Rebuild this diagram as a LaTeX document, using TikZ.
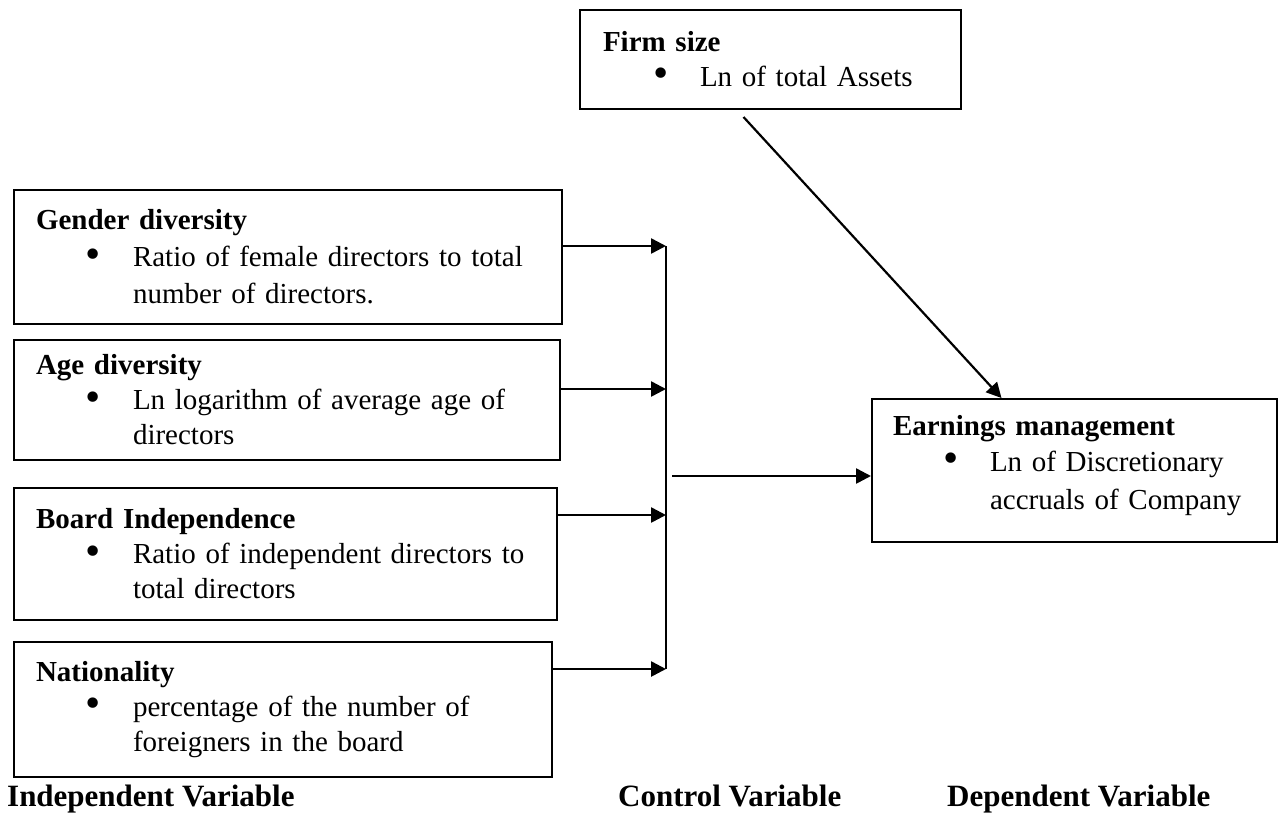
\documentclass[tikz,border=0pt]{standalone}
\usepackage{fontspec}
\setmainfont{Liberation Serif}
\usepackage{tikz}
\usetikzlibrary{positioning}
\usetikzlibrary{arrows.meta}
\tikzset{>={Triangle[width=15pt,length=15pt]}}
\newcommand{\vhead}[1]{\textbf{#1}}
\newcommand{\vitem}[1]{\hspace*{50pt}\makebox[47pt][l]{\raisebox{-1.5pt}{\scalebox{1.5}{\textbullet}}}#1}
\newcommand{\vmore}[1]{\hspace*{97pt}#1}

\begin{document}
\begin{tikzpicture}[x=1pt, y=-1pt, font=\fontsize{29}{35}\selectfont, varbox/.style={draw=black, line width=2pt, anchor=north west, align=left, inner xsep=22pt, inner ysep=0pt}, caption/.style={anchor=base west, inner sep=0pt, font=\fontsize{31}{36}\selectfont\bfseries}, link/.style={->, line width=2.6pt}]
    \useasboundingbox (0,0) rectangle (1278,820);

    %Nodes
    \node[varbox, text width=504pt, minimum height=134pt](gender) at (13,189){\vhead{Gender diversity}\\[2pt] \vitem{Ratio of female directors to total}\\[2pt] \vmore{number of directors.}};
    \node[varbox, text width=502pt, minimum height=120pt](age)[below=14pt of gender.south west, anchor=north west]{\vhead{Age diversity}\\ \vitem{Ln logarithm of average age of}\\ \vmore{directors}};
    \node[varbox, text width=499pt, minimum height=132pt](board)[below=26pt of age.south west, anchor=north west]{\vhead{Board Independence}\\ \vitem{Ratio of independent directors to}\\ \vmore{total directors}};
    \node[varbox, text width=494pt, minimum height=135pt](nation)[below=20pt of board.south west, anchor=north west]{\vhead{Nationality}\\ \vitem{percentage of the number of}\\ \vmore{foreigners in the board}};
    \node[varbox, text width=335pt, minimum height=99pt, inner xsep=23pt](firm) at (579,9){\vhead{Firm size}\\ \vitem{Ln of total Assets}};
    \node[varbox, text width=363pt, minimum height=143pt, inner xsep=21pt](earn) at (871,398){\vhead{Earnings management}\\[1pt] \vitem{Ln of Discretionary}\\[3pt] \vmore{accruals of Company}\\[-18pt]\mbox{}};
    \node[caption](indep) at (7,806){Independent Variable};
    \node[caption](control) at (618,806){Control Variable};
    \node[caption](dep) at (947,806){Dependent Variable};
    \coordinate (ina) at (666,246);
    \coordinate (inb) at (666,389);
    \coordinate (inc) at (666,515);
    \coordinate (ind) at (666,669);
    \coordinate (hub) at (672,476);

    %Lines
    \draw[line width=2pt] (ina) -- (ind);
    \draw[link] (gender.east |- ina) -- (ina);
    \draw[link] (age.east |- inb) -- (inb);
    \draw[link] (board.east |- inc) -- (inc);
    \draw[link] (nation.east |- ind) -- (ind);
    \draw[link] (hub) -- (earn.west |- hub);
    \draw[link, line width=2.2pt] ([xshift=-27pt, yshift=-7pt]firm.south) -- ([xshift=-73pt]earn.north);

\end{tikzpicture}
\end{document}
